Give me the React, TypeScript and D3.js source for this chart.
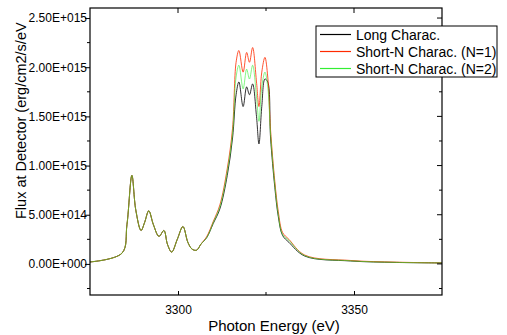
import React, { useEffect, useRef } from 'react';
import * as d3 from 'd3';

// photon energy (eV) and flux (units of 1e15 erg/cm2/s/eV)
const energy = [
  3275.0, 3284.1, 3285.5, 3286.9, 3288.0, 3289.5, 3290.5, 3291.7, 3293.0, 3294.6,
  3296.0, 3297.0, 3298.2, 3299.8, 3301.4, 3302.8, 3304.0, 3305.3, 3306.5, 3308.2,
  3310.0, 3311.9, 3314.0, 3315.5, 3316.5, 3317.3, 3318.5, 3319.5, 3320.3, 3321.2,
  3322.3, 3323.0, 3323.8, 3324.7, 3325.5, 3326.3, 3327.5, 3328.5, 3329.7, 3331.5,
  3336.0, 3349.0, 3362.0, 3375.0,
];
const longCharac = [
  0.02, 0.11, 0.4, 0.9, 0.55, 0.34, 0.42, 0.54, 0.4, 0.28,
  0.34, 0.2, 0.12, 0.25, 0.38, 0.22, 0.15, 0.14, 0.2, 0.27,
  0.41, 0.56, 0.9, 1.28, 1.72, 1.85, 1.6, 1.8, 1.72, 1.83,
  1.5, 1.22, 1.6, 1.88, 1.85, 1.28, 0.78, 0.48, 0.29, 0.22,
  0.08, 0.03, 0.015, 0.01,
];
const shortN1 = [
  0.02, 0.11, 0.4, 0.9, 0.55, 0.34, 0.42, 0.54, 0.4, 0.28,
  0.34, 0.2, 0.12, 0.25, 0.38, 0.22, 0.15, 0.14, 0.2, 0.28,
  0.43, 0.6, 0.97, 1.38, 2.05, 2.17, 1.95, 2.15, 2.05, 2.2,
  1.85, 1.6, 1.95, 2.1, 1.9, 1.36, 0.84, 0.53, 0.32, 0.25,
  0.09, 0.035, 0.018, 0.01,
];
const shortN2 = [
  0.02, 0.11, 0.4, 0.9, 0.55, 0.34, 0.42, 0.54, 0.4, 0.28,
  0.34, 0.2, 0.12, 0.25, 0.38, 0.22, 0.15, 0.14, 0.2, 0.27,
  0.42, 0.58, 0.94, 1.33, 1.9, 2.02, 1.78, 1.98, 1.88, 2.02,
  1.7, 1.45, 1.8, 1.95, 1.8, 1.32, 0.81, 0.5, 0.3, 0.24,
  0.085, 0.032, 0.016, 0.01,
];

const seriesNames = ['Long Charac.', 'Short-N Charac. (N=1)', 'Short-N Charac. (N=2)'];
const seriesColors = ['#000000', '#ff2a00', '#33ee33'];
const yTicks = [0, 0.5e15, 1.0e15, 1.5e15, 2.0e15, 2.5e15];
const yTickLabels = ['0.00E+000', '5.00E+014', '1.00E+015', '1.50E+015', '2.00E+015', '2.50E+015'];
const xTicks = [3300, 3350];

const App: React.FC = () => {
  const ref = useRef<SVGSVGElement | null>(null);

  useEffect(() => {
    const width = 507;
    const height = 335;
    const m = { left: 90, right: 442, top: 8, bottom: 295 };

    const svg = d3.select(ref.current);
    svg.selectAll('*').remove();
    svg.attr('width', width).attr('height', height);

    const x = d3.scaleLinear().domain([3275, 3375]).range([m.left, m.right]);
    const y = d3.scaleLinear().domain([-0.316e15, 2.602e15]).range([m.bottom, m.top]);

    const font = 'Arial, "Liberation Sans", sans-serif';

    svg.append('defs').append('clipPath').attr('id', 'plot-clip')
      .append('rect')
      .attr('x', m.left).attr('y', m.top)
      .attr('width', m.right - m.left).attr('height', m.bottom - m.top);

    const all = [longCharac, shortN1, shortN2];
    const line = d3.line<number>()
      .x((_, i) => x(energy[i]))
      .y(d => y(d * 1e15))
      .curve(d3.curveCatmullRom.alpha(0.5));

    const g = svg.append('g').attr('clip-path', 'url(#plot-clip)');
    all.forEach((vals, i) => {
      g.append('path')
        .attr('d', line(vals))
        .attr('fill', 'none')
        .attr('stroke', seriesColors[i])
        .attr('stroke-opacity', i === 2 ? 0.6 : 0.8)
        .attr('stroke-width', 1);
    });

    // left axis: outward ticks
    const left = svg.append('g').attr('transform', `translate(${m.left},0)`)
      .call(d3.axisLeft(y).tickValues(yTicks).tickSize(5)
        .tickFormat((_, i) => yTickLabels[i]));
    left.select('.domain').remove();
    left.selectAll('text').attr('font-family', font).attr('font-size', 12).attr('fill', '#000').attr('x', -3);
    left.selectAll('line').attr('stroke', '#000');
    const minorY = d3.range(-0.25e15, 2.6e15, 0.5e15);
    svg.append('g').selectAll('line').data(minorY).enter().append('line')
      .attr('x1', m.left - 3).attr('x2', m.left)
      .attr('y1', d => y(d)).attr('y2', d => y(d))
      .attr('stroke', '#000');

    // right axis: inward ticks
    svg.append('g').selectAll('line').data([...yTicks, ...minorY]).enter().append('line')
      .attr('x1', m.right).attr('x2', (d, i) => m.right - (i < yTicks.length ? 5 : 3))
      .attr('y1', d => y(d)).attr('y2', d => y(d))
      .attr('stroke', '#000');

    // bottom axis: inward ticks
    const bottom = svg.append('g').attr('transform', `translate(0,${m.bottom})`)
      .call(d3.axisBottom(x).tickValues(xTicks).tickSizeInner(-4).tickSizeOuter(0)
        .tickFormat(d3.format('d')));
    bottom.select('.domain').remove();
    bottom.selectAll('text').attr('font-family', font).attr('font-size', 12).attr('fill', '#000').attr('y', 10);
    bottom.selectAll('line').attr('stroke', '#000');
    const minorX = [3325];
    [m.bottom, m.top].forEach((yy, k) => {
      svg.append('g').selectAll('line').data(k === 0 ? minorX : [...xTicks, ...minorX]).enter().append('line')
        .attr('x1', d => x(d)).attr('x2', d => x(d))
        .attr('y1', yy).attr('y2', d => yy + (k === 0 ? -1 : 1) * (xTicks.includes(d) ? 5 : 3))
        .attr('stroke', '#000');
    });

    // frame
    svg.append('rect')
      .attr('x', m.left).attr('y', m.top)
      .attr('width', m.right - m.left).attr('height', m.bottom - m.top)
      .attr('fill', 'none').attr('stroke', '#000').attr('stroke-width', 1.2);

    // axis titles
    svg.append('text')
      .attr('x', (m.left + m.right) / 2 + 8).attr('y', 331)
      .attr('text-anchor', 'middle')
      .attr('font-family', font).attr('font-size', 15)
      .text('Photon Energy (eV)');
    svg.append('text')
      .attr('transform', 'translate(26,219) rotate(-90)')
      .attr('text-anchor', 'start')
      .attr('font-family', font).attr('font-size', 14.5)
      .text('Flux at Detector (erg/cm2/s/eV');

    // legend
    const lg = svg.append('g');
    lg.append('rect')
      .attr('x', 316).attr('y', 26).attr('width', 181).attr('height', 51)
      .attr('fill', '#fff').attr('stroke', '#000').attr('stroke-width', 1);
    seriesNames.forEach((name, i) => {
      const yy = 34.5 + i * 17;
      lg.append('line')
        .attr('x1', 320).attr('x2', 351).attr('y1', yy).attr('y2', yy)
        .attr('stroke', seriesColors[i]).attr('stroke-width', 1.2);
      lg.append('text')
        .attr('x', 356).attr('y', yy + 5)
        .attr('font-family', font).attr('font-size', 14)
        .text(name);
    });
  }, []);

  return (
    <div style={{ position: 'absolute', left: 0, top: 0 }}>
      <svg ref={ref}></svg>
    </div>
  );
};

export default App;
